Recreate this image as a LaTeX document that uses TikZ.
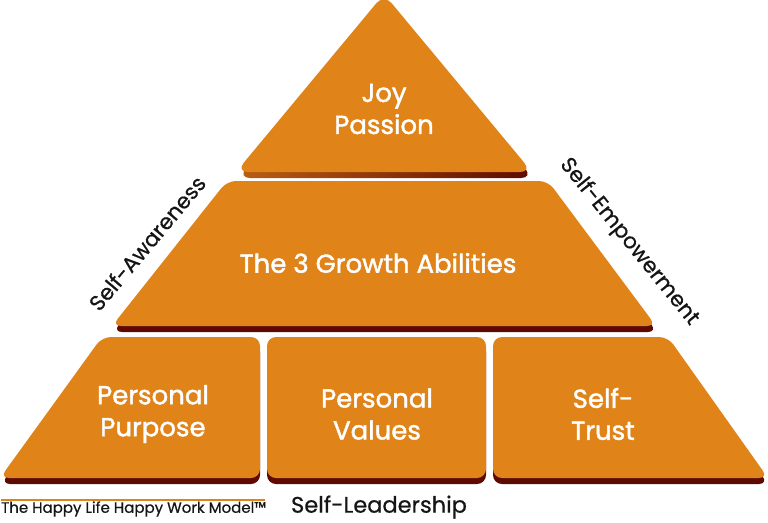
\documentclass[tikz,border=0pt]{standalone}
\usepackage{fontspec}
\setmainfont{Poppins}
\newfontfamily\wfont{Poppins}[FakeBold=1.6]
\newfontfamily\lfont{Poppins}[FakeBold=0.6]
\definecolor{org}{HTML}{E0841A}
\definecolor{shd}{HTML}{5E0A00}
\definecolor{lbl}{HTML}{151515}
\tikzset{
  blockshape/.style={fill=org, rounded corners=9pt},
  shadowshape/.style={fill=shd, rounded corners=9pt},
  wtext/.style={text=white, align=center, font=\wfont\fontsize{26}{32}\selectfont},
  sidelabel/.style={text=lbl, font=\lfont\fontsize{21.5}{24}\selectfont, inner sep=0pt}
}
\begin{document}
\begin{tikzpicture}[x=1pt,y=-1pt]
\useasboundingbox (0,0) rectangle (768,522);
% top triangle
\shade[left color=org!70!shd, right color=shd, rounded corners=12pt] (384,-4) -- (533,178) -- (238,178) -- cycle;
\path[blockshape, rounded corners=12pt] (384,-6) -- (532,172) -- (236,172) -- cycle;
% middle trapezoid
\path[shadowshape] (229,187) -- (549,187) -- (657,332) -- (113,332) -- cycle;
\path[blockshape] (227,181) -- (548,181) -- (656,326) -- (112,326) -- cycle;
% bottom row
\path[shadowshape] (103,343) -- (260,343) -- (260,484) -- (1,484) -- cycle;
\path[blockshape] (102,337) -- (260,337) -- (260,478) -- (0,478) -- cycle;
\path[shadowshape] (267,343) -- (486,343) -- (486,484) -- (267,484) -- cycle;
\path[blockshape] (267,337) -- (486,337) -- (486,478) -- (267,478) -- cycle;
\path[shadowshape] (493,343) -- (669,343) -- (768,484) -- (493,484) -- cycle;
\path[blockshape] (493,337) -- (668,337) -- (768,478) -- (493,478) -- cycle;
% texts
\node[wtext] (joy) at (384,109) {Joy\\Passion};
\node[wtext] (growth) at (378,263) {The 3 Growth Abilities};
\node[wtext] (purpose) at (153,414) {Personal\\Purpose};
\node[wtext] (values) at (377,414) {Personal\\Values};
\node[wtext] (trust) at (603,414) {Self-\\Trust};
\node[sidelabel, rotate=50] (aware) at (147,243) {Self-Awareness};
\node[sidelabel, rotate=-51] (empower) at (629,242) {Self-Empowerment};
\node[sidelabel, font=\lfont\fontsize{22.5}{26}\selectfont] (lead) at (379,507) {Self-Leadership};
\node[sidelabel, anchor=west, font=\lfont\fontsize{15}{18}\selectfont] (model) at (1,509) {The Happy Life Happy Work Model™};
\draw[org, line width=1.5pt] (1,500) -- (265,500);
\end{tikzpicture}
\end{document}
